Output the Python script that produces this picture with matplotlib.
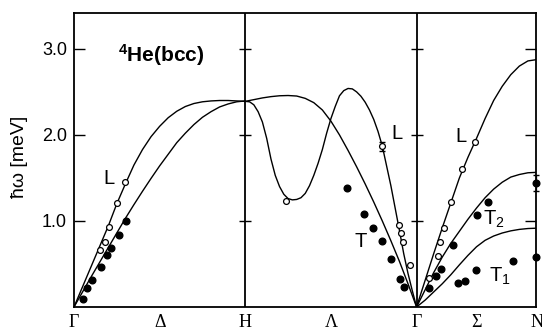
import matplotlib
matplotlib.use('Agg')
import matplotlib.pyplot as plt

plt.rcParams['font.family'] = ['Liberation Sans', 'DejaVu Sans']
plt.rcParams['mathtext.fontset'] = 'custom'
plt.rcParams['mathtext.rm'] = 'Liberation Sans'
plt.rcParams['mathtext.bf'] = 'Liberation Sans:bold'

# symmetry points along the path (Gamma-H-Gamma-N)
path_ticks = [0.0, 0.5, 1.0, 1.5, 2.0, 2.35, 2.70]
path_labels = ['Γ', 'Δ', 'H', 'Λ', 'Γ', 'Σ', 'N']
y_ticks = [1.0, 2.0, 3.0]
y_tick_labels = ['1.0', '2.0', '3.0']

# theory curves
# Gamma -> H
delta_L_x = [0.0, 0.1, 0.2, 0.25, 0.3, 0.35, 0.4, 0.45, 0.5, 0.55, 0.6, 0.65, 0.7, 0.75,
             0.8, 0.85, 0.9, 1.0]
delta_L_y = [0.0, 0.47, 0.94, 1.20, 1.43, 1.65, 1.83, 1.98, 2.10, 2.20, 2.275, 2.33, 2.365,
             2.385, 2.395, 2.40, 2.40, 2.39]
delta_T_x = [0.0, 0.1, 0.2, 0.3, 0.35, 0.4, 0.45, 0.5, 0.55, 0.6, 0.65, 0.7, 0.75, 0.8,
             0.85, 0.9, 0.95, 1.0]
delta_T_y = [0.0, 0.35, 0.69, 1.03, 1.19, 1.345, 1.495, 1.64, 1.775, 1.91, 2.02, 2.12, 2.205,
             2.27, 2.325, 2.36, 2.385, 2.395]

# H -> Gamma
lambda_L_x = [1.0, 1.025, 1.05, 1.075, 1.1, 1.125, 1.15, 1.175, 1.2, 1.225, 1.25, 1.275,
              1.3, 1.325, 1.35, 1.375, 1.4, 1.425, 1.45, 1.475, 1.5, 1.525, 1.55, 1.575,
              1.6, 1.625, 1.65, 1.675, 1.7, 1.725, 1.75, 1.775, 1.8, 1.825, 1.85, 1.875,
              1.9, 1.925, 1.95, 1.975, 2.0]
lambda_L_y = [2.39, 2.385, 2.35, 2.27, 2.15, 1.96, 1.72, 1.53, 1.40, 1.31, 1.26, 1.245,
              1.25, 1.27, 1.32, 1.41, 1.53, 1.67, 1.83, 2.02, 2.19, 2.33, 2.455, 2.515,
              2.54, 2.535, 2.50, 2.45, 2.38, 2.29, 2.18, 2.04, 1.87, 1.64, 1.41, 1.15,
              0.89, 0.62, 0.39, 0.19, 0.0]
lambda_T_x = [1.0, 1.05, 1.1, 1.15, 1.2, 1.25, 1.3, 1.35, 1.4, 1.45, 1.5, 1.55, 1.6, 1.65,
              1.7, 1.75, 1.8, 1.85, 1.9, 1.95, 2.0]
lambda_T_y = [2.39, 2.41, 2.43, 2.445, 2.455, 2.458, 2.452, 2.425, 2.375, 2.29, 2.16, 2.00,
              1.82, 1.63, 1.43, 1.22, 1.00, 0.77, 0.53, 0.27, 0.0]

# Gamma -> N
sigma_L_x = [2.0, 2.05, 2.1, 2.15, 2.2, 2.25, 2.3, 2.35, 2.4, 2.45, 2.5, 2.55, 2.6, 2.65, 2.7]
sigma_L_y = [0.0, 0.31, 0.62, 0.92, 1.21, 1.50, 1.74, 1.96, 2.19, 2.40, 2.565, 2.70, 2.80,
             2.86, 2.875]
sigma_T2_x = [2.0, 2.05, 2.1, 2.15, 2.2, 2.25, 2.3, 2.35, 2.4, 2.45, 2.5, 2.55, 2.6, 2.65, 2.7]
sigma_T2_y = [0.0, 0.20, 0.40, 0.58, 0.74, 0.88, 1.02, 1.15, 1.27, 1.37, 1.45, 1.51, 1.54,
              1.56, 1.565]
sigma_T1_x = [2.0, 2.05, 2.1, 2.15, 2.2, 2.25, 2.3, 2.35, 2.4, 2.45, 2.5, 2.55, 2.6, 2.65, 2.7]
sigma_T1_y = [0.0, 0.08, 0.175, 0.27, 0.375, 0.49, 0.60, 0.70, 0.775, 0.825, 0.86, 0.885,
              0.902, 0.912, 0.916]

# measured points: open = longitudinal, filled = transverse
open_x = [0.152, 0.179, 0.202, 0.249, 0.297,
          1.238, 1.796, 1.897, 1.909, 1.921, 1.961,
          2.070, 2.123, 2.138, 2.160, 2.199, 2.263, 2.344]
open_y = [0.66, 0.756, 0.935, 1.21, 1.455,
          1.234, 1.866, 0.955, 0.865, 0.75, 0.49,
          0.34, 0.59, 0.75, 0.92, 1.22, 1.60, 1.913]
filled_x = [0.054, 0.078, 0.105, 0.156, 0.194, 0.218, 0.261, 0.303,
            1.595, 1.695, 1.747, 1.796, 1.849, 1.903, 1.926,
            2.075, 2.115, 2.140, 2.214, 2.353, 2.418, 2.697,
            2.239, 2.282, 2.349, 2.564, 2.697]
filled_y = [0.097, 0.217, 0.318, 0.469, 0.605, 0.69, 0.834, 1.0,
            1.38, 1.08, 0.915, 0.765, 0.56, 0.32, 0.236,
            0.225, 0.357, 0.444, 0.72, 1.07, 1.22, 1.443,
            0.283, 0.30, 0.432, 0.535, 0.578]

# points with error bars
err_open_x = [1.796]
err_open_y = [1.866]
err_open_e = [0.05]
err_filled_x = [2.697]
err_filled_y = [1.443]
err_filled_e = [0.09]

fig = plt.figure(figsize=(5.42, 3.31), dpi=100)
ax = fig.add_axes([0.1365, 0.0725, 0.8533, 0.889])

line_kw = dict(color='black', lw=1.0)
for xs, ys in [(delta_L_x, delta_L_y), (delta_T_x, delta_T_y),
               (lambda_L_x, lambda_L_y), (lambda_T_x, lambda_T_y),
               (sigma_L_x, sigma_L_y), (sigma_T2_x, sigma_T2_y),
               (sigma_T1_x, sigma_T1_y)]:
    ax.plot(xs, ys, **line_kw)

ax.errorbar(err_open_x, err_open_y, yerr=err_open_e, fmt='none', ecolor='black',
            elinewidth=0.9, capsize=2.5, clip_on=False)
ax.errorbar(err_filled_x, err_filled_y, yerr=err_filled_e, fmt='none', ecolor='black',
            elinewidth=0.9, capsize=2.5, clip_on=False)

ax.plot(filled_x, filled_y, 'o', color='black', ms=4.8, ls='none', clip_on=False, zorder=4)
ax.plot(open_x, open_y, 'o', mfc='white', mec='black', mew=0.9, ms=4.2, ls='none',
        clip_on=False, zorder=4)

# boundaries between the path segments, with ticks crossing them
for xb in [1.0, 2.0]:
    ax.axvline(xb, color='black', lw=1.3)
    ax.plot([xb] * len(y_ticks), y_ticks, ls='none', marker='_', ms=8, mew=1.0, color='black')

ax.set_xlim(0, 2.70)
ax.set_ylim(0, 3.42)
ax.set_xticks(path_ticks)
ax.set_xticklabels(path_labels, family='Liberation Serif', fontsize=13)
ax.set_yticks(y_ticks)
ax.set_yticklabels(y_tick_labels, fontsize=13)
ax.tick_params(axis='x', length=0, pad=5)
ax.tick_params(axis='y', direction='in', length=8, width=1.0, right=True, pad=5)
for sp in ax.spines.values():
    sp.set_linewidth(1.3)

# labels
lab_kw = dict(fontsize=14.5, ha='left', va='baseline')
ax.text(0.171, 1.43, 'L', **lab_kw)
ax.text(1.851, 1.95, 'L', **lab_kw)
ax.text(1.640, 0.70, 'T', **lab_kw)
ax.text(2.228, 1.915, 'L', **lab_kw)
ax.text(2.389, 0.953, r'T$_2$', **lab_kw)
ax.text(2.423, 0.294, r'T$_1$', **lab_kw)
ax.text(0.259, 2.85, r'$\mathbf{^4}$He(bcc)', fontsize=15, fontweight='bold',
        ha='left', va='baseline')

fig.text(19 / 542, 1 - 157 / 331, 'ħω [meV]', rotation=90, fontsize=14,
         ha='center', va='center')

fig.savefig('out.png', dpi=100)
